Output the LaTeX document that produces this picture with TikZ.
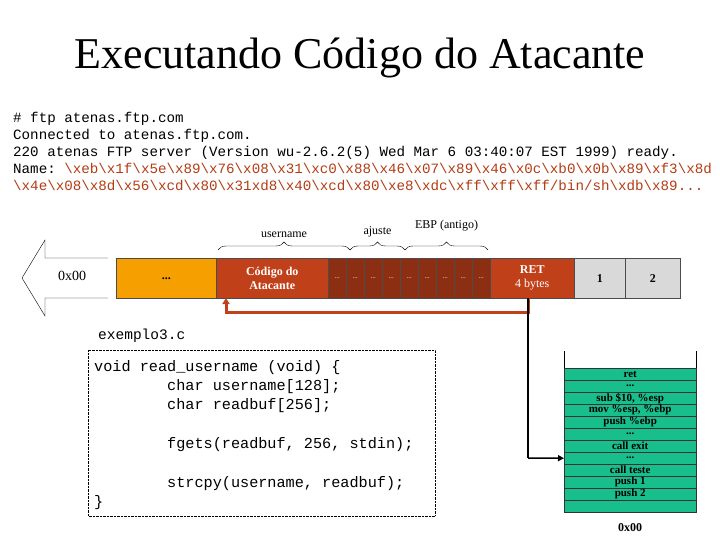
\documentclass[tikz,border=0pt]{standalone}
\usepackage{fontspec}
\setmainfont{Liberation Serif}
\setmonofont{Liberation Mono}
\usetikzlibrary{decorations.pathreplacing,arrows.meta}
\definecolor{myor}{RGB}{245,160,0}
\definecolor{myred}{RGB}{192,64,26}
\definecolor{mybr}{RGB}{140,46,18}
\definecolor{mygr}{RGB}{217,217,217}
\definecolor{myteal}{RGB}{24,190,140}
\definecolor{codered}{RGB}{180,60,20}
\begin{document}
\begin{tikzpicture}[x=1pt,y=-1pt,
  cell/.style={draw=black!70,line width=0.5pt,minimum height=40pt,inner sep=0pt,anchor=north west,font=\fontsize{12}{13}\selectfont\bfseries},
  srow/.style={draw=black!80,fill=myteal,minimum width=132pt,minimum height=12pt,inner sep=0pt,anchor=north west,font=\fontsize{11}{10}\selectfont\bfseries},
  br/.style={decorate,decoration={brace,amplitude=8pt}},
  lbl/.style={font=\fontsize{12}{13}\selectfont}]
\useasboundingbox (0,0) rectangle (720,540);
\node (title) at (360,58) {\fontsize{44}{48}\selectfont Executando Código do Atacante};
\node[anchor=north west,align=left,inner sep=0pt,font=\ttfamily\fontsize{14.2}{17}\selectfont] (term) at (13,112) {\# ftp atenas.ftp.com\\Connected to atenas.ftp.com.\\220 atenas FTP server (Version wu-2.6.2(5) Wed Mar 6 03:40:07 EST 1999) ready.\\Name: \textcolor{codered}{\string\xeb\string\x1f\string\x5e\string\x89\string\x76\string\x08\string\x31\string\xc0\string\x88\string\x46\string\x07\string\x89\string\x46\string\x0c\string\xb0\string\x0b\string\x89\string\xf3\string\x8d}\\\textcolor{codered}{\string\x4e\string\x08\string\x8d\string\x56\string\xcd\string\x80\string\x31xd8\string\x40\string\xcd\string\x80\string\xe8\string\xdc\string\xff\string\xff\string\xff/bin/sh\string\xdb\string\x89...}};
% arrow shape
\draw[fill=white] (108,258) -- (45,258) -- (45,240) -- (22,278) -- (45,316) -- (45,298) -- (108,298);
\node[lbl,font=\fontsize{14}{15}\selectfont] (zero) at (72,276) {0x00};
\node[cell,fill=myor,minimum width=100pt] (dots) at (116,258) {...};
\node[cell,fill=myred,minimum width=112pt,text=white,align=center,font=\fontsize{12}{14}\selectfont\bfseries] (cod) at (216,258) {Código do\\Atacante};
\foreach \i in {0,1,2,3,4,5,6,7,8} {
  \node[cell,fill=mybr,minimum width=18pt,text=white,font=\fontsize{7}{8}\selectfont] (s\i) at ({328+18*\i},258) {.\kern0pt.\kern0pt.};
}
\node[cell,fill=myred,minimum width=84pt,text=white,align=center,font=\fontsize{12}{14}\selectfont] (ret) at (490,258) {\textbf{RET}\\4 bytes};
\node[cell,fill=mygr,minimum width=51pt] (one) at (574,258) {1};
\node[cell,fill=mygr,minimum width=55pt] (two) at (625,258) {2};
% braces
\draw[br] (218,250) -- (350,250) node[midway,above=9pt,lbl] (u) {username};
\draw[br] (350,250) -- (405,250) node[midway,above=9pt,lbl] (aj) {ajuste};
\draw[br] (405,250) -- (488,250) node[midway,above=15pt,lbl] (ebp) {EBP (antigo)};
% red path
\coordinate (r1) at (528,298);
\coordinate (r2) at (528,312);
\coordinate (r3) at (226,312);
\coordinate (r4) at (226,298);
\draw[myred,line width=3pt,-{Triangle[length=6pt,width=7pt]}] (r1) -- (r2) -- (r3) -- (r4);
% code box
\node[anchor=west,inner sep=0pt,font=\ttfamily\fontsize{14.5}{16}\selectfont] (ex) at (98,336) {exemplo3.c};
\draw[densely dotted] (88,350) rectangle (435,516);
\node[anchor=north west,align=left,inner sep=0pt,font=\ttfamily\fontsize{15.2}{19.3}\selectfont] (code) at (94,360) {void read\_username (void) \{\\\ \ \ \ \ \ \ \ char username[128];\\\ \ \ \ \ \ \ \ char readbuf[256];\\[19.3pt]\ \ \ \ \ \ \ \ fgets(readbuf, 256, stdin);\\[19.3pt]\ \ \ \ \ \ \ \ strcpy(username, readbuf);\\\}};
% stack
\draw (564,351) -- (564,368);
\draw (696,351) -- (696,368);
\newcommand\stk[2]{\node[srow] (st#1) at (564,{368+12*#1}) {#2};}
\stk{0}{ret}
\stk{1}{.\kern0pt.\kern0pt.}
\stk{2}{sub \$10, \%esp}
\stk{3}{mov \%esp, \%ebp}
\stk{4}{push \%ebp}
\stk{5}{.\kern0pt.\kern0pt.}
\stk{6}{call exit}
\stk{7}{.\kern0pt.\kern0pt.}
\stk{8}{call teste}
\stk{9}{push 1}
\stk{10}{push 2}
\stk{11}{}
\node[font=\fontsize{12}{13}\selectfont\bfseries] (z2) at (630,528) {0x00};
\coordinate (b1) at (528,298);
\coordinate (b2) at (528,458);
\draw[line width=1.5pt] (b1) -- (b2);
\draw[line width=1.5pt,-{Triangle[length=6pt,width=6pt]}] (b2) -- (st7.west);
\end{tikzpicture}
\end{document}
